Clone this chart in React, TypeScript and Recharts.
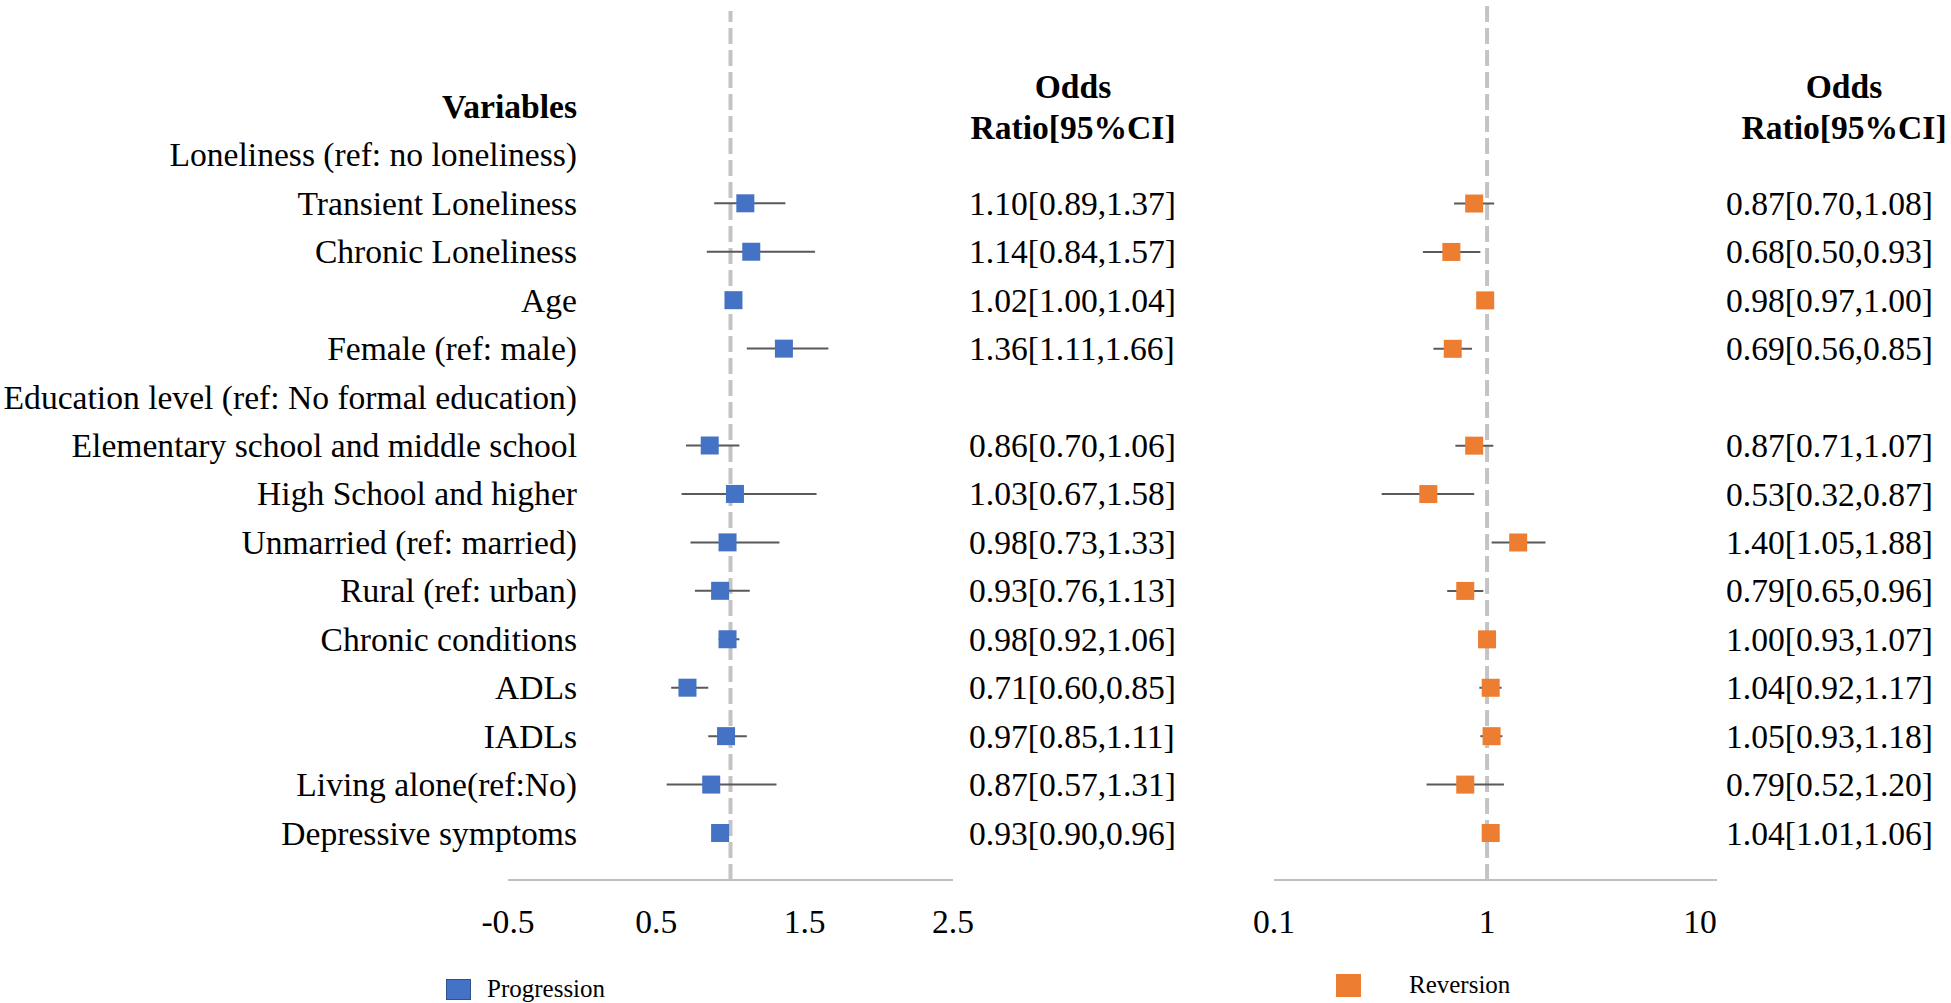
import React from "react";
import { ScatterChart, Scatter, XAxis, YAxis, ErrorBar, ReferenceLine } from "recharts";

const serif = "'Liberation Serif', 'Times New Roman', serif";

const variables = [
  "Loneliness (ref: no loneliness)",
  "Transient Loneliness",
  "Chronic Loneliness",
  "Age",
  "Female (ref: male)",
  "Education level (ref: No formal education)",
  "Elementary school and middle school",
  "High School and higher",
  "Unmarried (ref: married)",
  "Rural (ref: urban)",
  "Chronic conditions",
  "ADLs",
  "IADLs",
  "Living alone(ref:No)",
  "Depressive symptoms",
];

// null = group heading row, no estimate
const progOR = [null, 1.10, 1.14, 1.02, 1.36, null, 0.86, 1.03, 0.98, 0.93, 0.98, 0.71, 0.97, 0.87, 0.93];
const progLow = [null, 0.89, 0.84, 1.00, 1.11, null, 0.70, 0.67, 0.73, 0.76, 0.92, 0.60, 0.85, 0.57, 0.90];
const progHigh = [null, 1.37, 1.57, 1.04, 1.66, null, 1.06, 1.58, 1.33, 1.13, 1.06, 0.85, 1.11, 1.31, 0.96];

const revOR = [null, 0.87, 0.68, 0.98, 0.69, null, 0.87, 0.53, 1.40, 0.79, 1.00, 1.04, 1.05, 0.79, 1.04];
const revLow = [null, 0.70, 0.50, 0.97, 0.56, null, 0.71, 0.32, 1.05, 0.65, 0.93, 0.92, 0.93, 0.52, 1.01];
const revHigh = [null, 1.08, 0.93, 1.00, 0.85, null, 1.07, 0.87, 1.88, 0.96, 1.07, 1.17, 1.18, 1.20, 1.06];

const progTicks = [-0.5, 0.5, 1.5, 2.5];
const revTicks = [0.1, 1, 10];
const rowTicks = [-1, 0, 1, 2, 3, 4, 5, 6, 7, 8, 9, 10, 11, 12, 13, 14];

const BLUE = "#4472C4";
const ORANGE = "#ED7D31";
const GREY = "#BFBFBF";
const FS = 33.6;

function toPoints(or: (number | null)[], lo: (number | null)[], hi: (number | null)[]) {
  const out: { row: number; or: number; err: number[] }[] = [];
  or.forEach((v, i) => {
    if (v == null) return;
    out.push({ row: i, or: v, err: [v - (lo[i] as number), (hi[i] as number) - v] });
  });
  return out;
}

const fmt = (or: (number | null)[], lo: (number | null)[], hi: (number | null)[], i: number) =>
  or[i] == null ? "" : `${or[i]!.toFixed(2)}[${lo[i]!.toFixed(2)},${hi[i]!.toFixed(2)}]`;

const progData = toPoints(progOR, progLow, progHigh);
const revData = toPoints(revOR, revLow, revHigh);

const square = (color: string) => (p: any) => (
  <rect x={p.cx - 9} y={p.cy - 9} width={18} height={18} fill={color} />
);

const VarTick = ({ x, y, payload }: any) => (
  <text x={x + 69} y={y} textAnchor="end" dominantBaseline="central" fontFamily={serif} fontSize={FS}
    fontWeight={payload.value < 0 ? "bold" : "normal"} fill="#000">
    {payload.value < 0 ? "Variables" : variables[payload.value]}
  </text>
);

const valueTick = (or: any, lo: any, hi: any) => ({ x, y, payload }: any) => (
  <text x={x} y={y} textAnchor="start" dominantBaseline="central" fontFamily={serif} fontSize={FS} fill="#000">
    {payload.value < 0 ? "" : fmt(or, lo, hi, payload.value)}
  </text>
);

const legend = (left: number, top: number, color: string, border: string, label: string, gap: number, h: number) => (
  <div style={{ position: "absolute", left, top, display: "flex", alignItems: "center",
    fontFamily: serif, fontSize: 25, lineHeight: "26px", color: "#000" }}>
    <div style={{ width: 25, height: h, background: color, boxSizing: "border-box", border: `1px solid ${border}` }} />
    <span style={{ marginLeft: gap }}>{label}</span>
  </div>
);

const header = (cx: number) => (
  <div style={{ position: "absolute", left: cx - 150, top: 66, width: 300, textAlign: "center",
    fontFamily: serif, fontSize: FS, fontWeight: "bold", lineHeight: "41px", color: "#000" }}>
    Odds<br />Ratio[95%CI]
  </div>
);

const axisTick = { fontFamily: serif, fontSize: FS, fill: "#000" };

export default function App() {
  return (
    <div style={{ position: "absolute", left: 0, top: 0, width: 1951, height: 1003, background: "#fff", overflow: "hidden" }}>
      <div style={{ position: "absolute", left: 0, top: 0 }}>
        <ScatterChart width={1200} height={1003} margin={{ top: 11, right: 7, bottom: 63, left: 0 }}>
          <XAxis type="number" dataKey="or" domain={[-0.5, 2.5]} ticks={progTicks} allowDataOverflow
            axisLine={{ stroke: GREY, strokeWidth: 2 }} tickLine={false} tickSize={0} tickMargin={29}
            height={60} tick={axisTick} interval={0} />
          <YAxis yAxisId="L" type="number" dataKey="row" orientation="left" reversed width={508}
            domain={[-2.97, 14.97]} ticks={rowTicks} interval={0} allowDataOverflow allowDecimals
            axisLine={false} tickLine={false} tickSize={0} tickMargin={0} tick={VarTick} />
          <YAxis yAxisId="R" type="number" dataKey="row" orientation="right" reversed width={240}
            domain={[-2.97, 14.97]} ticks={rowTicks} interval={0} allowDataOverflow allowDecimals
            axisLine={false} tickLine={false} tickSize={0} tickMargin={16}
            tick={valueTick(progOR, progLow, progHigh)} />
          <ReferenceLine yAxisId="L" x={1} stroke="#C4C4C4" strokeWidth={4} strokeDasharray="16 6" />
          <Scatter yAxisId="L" data={progData} dataKey="or" shape={square(BLUE)} isAnimationActive={false} name="Progression">
            <ErrorBar dataKey="err" direction="x" width={0} stroke="#595959" strokeWidth={2} isAnimationActive={false} />
          </Scatter>
        </ScatterChart>
      </div>
      {header(1073)}
      {legend(446, 976, BLUE, "#2F528F", "Progression", 16, 21)}
      <div style={{ position: "absolute", left: 1000, top: 0 }}>
        <ScatterChart width={951} height={1003} margin={{ top: 5, right: 0, bottom: 63, left: 274 }}>
          <XAxis type="number" dataKey="or" scale="log" domain={[0.1, 12]} ticks={revTicks} allowDataOverflow
            axisLine={{ stroke: GREY, strokeWidth: 2 }} tickLine={false} tickSize={0} tickMargin={29}
            height={60} tick={axisTick} interval={0} tickFormatter={(v: number) => String(v)} />
          <YAxis yAxisId="L" type="number" dataKey="row" hide reversed domain={[-3.1, 14.97]} allowDataOverflow />
          <YAxis yAxisId="R" type="number" dataKey="row" orientation="right" reversed width={234}
            domain={[-3.1, 14.97]} ticks={rowTicks} interval={0} allowDataOverflow allowDecimals
            axisLine={false} tickLine={false} tickSize={0} tickMargin={9}
            tick={valueTick(revOR, revLow, revHigh)} />
          <ReferenceLine yAxisId="L" x={1} stroke="#C4C4C4" strokeWidth={4} strokeDasharray="16 6" />
          <Scatter yAxisId="L" data={revData} dataKey="or" shape={square(ORANGE)} isAnimationActive={false} name="Reversion">
            <ErrorBar dataKey="err" direction="x" width={0} stroke="#595959" strokeWidth={2} isAnimationActive={false} />
          </Scatter>
        </ScatterChart>
      </div>
      {header(1844)}
      {legend(1336, 972, ORANGE, ORANGE, "Reversion", 48, 23)}
    </div>
  );
}
